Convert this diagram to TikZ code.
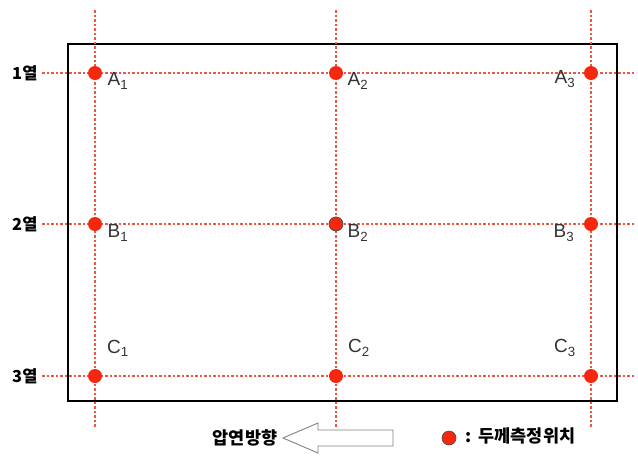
\documentclass[tikz,border=0pt]{standalone}
\usepackage{fontspec}
\setmainfont{Liberation Sans}
\newfontfamily\kr{Noto Sans CJK KR}
\newcommand{\sub}[1]{\textsubscript{#1}}
\begin{document}
\begin{tikzpicture}[x=1pt,y=-1pt,
  grid/.style={draw=gridred,line width=1.1pt,dash pattern=on 2.5pt off 2pt},
  pt/.style={circle,fill=dotred,minimum size=14pt,inner sep=0pt},
  lab/.style={font=\fontsize{19}{19}\selectfont,text=black!80},
  rowlab/.style={font=\kr\bfseries\fontsize{16.5}{16.5}\selectfont,anchor=east},
  legtxt/.style={font=\kr\bfseries\fontsize{17.5}{17.5}\selectfont}]
\definecolor{gridred}{RGB}{232,90,70}
\definecolor{dotred}{RGB}{245,40,15}
\useasboundingbox (0,0) rectangle (638,456);
% plate
\draw[line width=2.2pt] (68,44) rectangle (617,401);
% grid lines
\foreach \x in {95,336,591} \draw[grid] (\x,10) -- (\x,428);
\foreach \y in {73,224,376} \draw[grid] (42,\y) -- (634,\y);
% row labels
\node[rowlab] (r1) at (41,73) {1열};
\node[rowlab] (r2) at (41,224) {2열};
\node[rowlab] (r3) at (41,376) {3열};
% points
\node[pt] (A1) at (95,73) {};
\node[pt] (A2) at (336,73) {};
\node[pt] (A3) at (591,73) {};
\node[pt] (B1) at (95,224) {};
\node[pt,draw=black!70,line width=0.8pt] (B2) at (336,224) {};
\node[pt] (B3) at (591,224) {};
\node[pt] (C1) at (95,376) {};
\node[pt] (C2) at (336,376) {};
\node[pt] (C3) at (591,376) {};
% labels
\node[lab] (lA1) at (118,81) {A\sub{1}};
\node[lab] (lA2) at (358,81) {A\sub{2}};
\node[lab] (lA3) at (565,79) {A\sub{3}};
\node[lab] (lB1) at (118,233) {B\sub{1}};
\node[lab] (lB2) at (358,233) {B\sub{2}};
\node[lab] (lB3) at (564,233) {B\sub{3}};
\node[lab] (lC1) at (118,348) {C\sub{1}};
\node[lab] (lC2) at (359,348) {C\sub{2}};
\node[lab] (lC3) at (565,348) {C\sub{3}};
% rolling direction
\node[legtxt] (dir) at (245,438) {압연방향};
\draw[draw=black!50,fill=white,line width=0.9pt]
  (283,438) -- (318,423) -- (318,430) -- (393,430) -- (393,446) -- (318,446) -- (318,453) -- cycle;
% legend
\node[pt,draw=black!70,line width=0.6pt] (leg) at (449,438) {};
\node[legtxt,anchor=west] (legt) at (462,436) {:\hspace{7pt}두께측정위치};
\end{tikzpicture}
\end{document}
